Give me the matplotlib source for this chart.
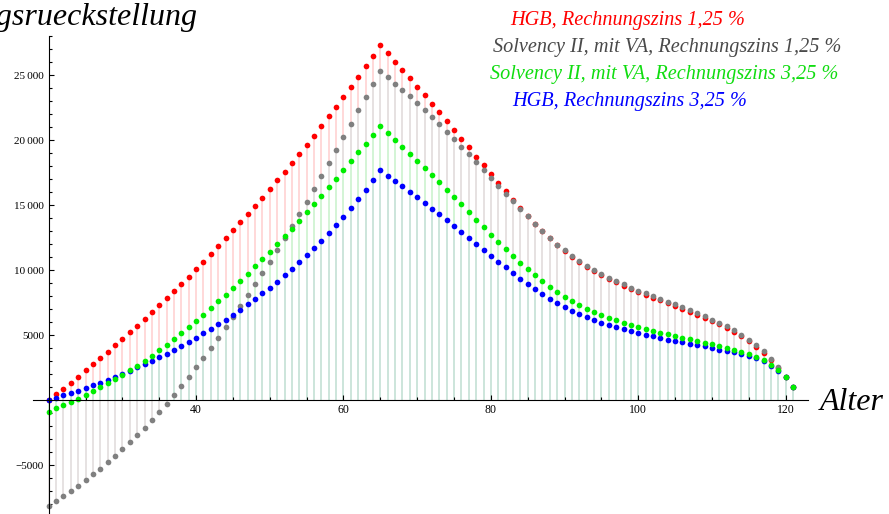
import matplotlib
matplotlib.use('Agg')
import matplotlib.pyplot as plt
from matplotlib.ticker import FixedLocator, FuncFormatter

# Alter 20 bis 121
alter = list(range(20, 122))

# HGB, Rechnungszins 1,25 %
hgb_125 = [0, 436, 872, 1333, 1795, 2282, 2743, 3231, 3718, 4205,
           4692, 5205, 5718, 6256, 6769, 7307, 7846, 8384, 8923, 9487,
           10077, 10641, 11230, 11846, 12436, 13051, 13667, 14282, 14923, 15564,
           16230, 16897, 17564, 18230, 18923, 19615, 20333, 21077, 21820, 22564,
           23308, 24077, 24872, 25666, 26461, 27282, 26666, 26025, 25384, 24743,
           24102, 23461, 22794, 22128, 21461, 20794, 20102, 19435, 18718, 18077,
           17384, 16717, 16076, 15410, 14794, 14179, 13564, 13000, 12461, 11948,
           11461, 11000, 10589, 10230, 9897, 9615, 9333, 9051, 8800, 8540,
           8310, 8100, 7870, 7670, 7460, 7260, 7030, 6800, 6570, 6340,
           6090, 5840, 5570, 5260, 4930, 4550, 4110, 3650, 3090, 2440,
           1760, 970]

# Solvency II, mit VA, Rechnungszins 1,25 %
solv_125 = [-8128, -7743, -7384, -7000, -6589, -6154, -5718, -5282, -4795, -4282,
            -3769, -3256, -2692, -2128, -1538, -897, -282, 385, 1077, 1795,
            2513, 3256, 4000, 4795, 5590, 6384, 7231, 8051, 8897, 9769,
            10641, 11538, 12436, 13370, 14307, 15256, 16230, 17230, 18230, 19230,
            20230, 21256, 22282, 23282, 24282, 25282, 24820, 24333, 23846, 23359,
            22846, 22307, 21769, 21205, 20641, 20077, 19487, 18897, 18282, 17692,
            17077, 16460, 15871, 15282, 14718, 14128, 13538, 13000, 12461, 11948,
            11512, 11077, 10666, 10307, 10000, 9692, 9410, 9140, 8897, 8641,
            8410, 8205, 7974, 7769, 7564, 7359, 7128, 6897, 6666, 6436,
            6190, 5935, 5666, 5359, 5025, 4641, 4205, 3743, 3179, 2513,
            1769, 974]

# Solvency II, mit VA, Rechnungszins 3,25 %
solv_325 = [-897, -641, -385, -154, 103, 359, 667, 974, 1282, 1615,
            1949, 2308, 2641, 3026, 3410, 3846, 4256, 4692, 5154, 5590,
            6077, 6564, 7051, 7590, 8102, 8641, 9154, 9718, 10282, 10820,
            11410, 12000, 12590, 13190, 13795, 14436, 15077, 15718, 16384, 17025,
            17692, 18384, 19051, 19718, 20384, 21051, 20512, 20000, 19461, 18923,
            18384, 17846, 17282, 16743, 16179, 15615, 15051, 14461, 13871, 13307,
            12730, 12179, 11615, 11076, 10564, 10076, 9589, 9128, 8692, 8307,
            7923, 7589, 7282, 7000, 6743, 6512, 6307, 6128, 5948, 5769,
            5615, 5461, 5307, 5179, 5051, 4923, 4795, 4666, 4538, 4410,
            4307, 4170, 4000, 3846, 3718, 3564, 3307, 3051, 2692, 2282,
            1769, 974]

# HGB, Rechnungszins 3,25 %
hgb_325 = [0, 154, 359, 538, 718, 923, 1128, 1333, 1564, 1795,
           2000, 2256, 2513, 2769, 3026, 3282, 3564, 3872, 4179, 4487,
           4795, 5128, 5461, 5820, 6179, 6564, 6948, 7359, 7769, 8205,
           8641, 9102, 9590, 10077, 10590, 11128, 11666, 12256, 12846, 13461,
           14077, 14743, 15436, 16154, 16897, 17666, 17256, 16846, 16435, 16000,
           15589, 15153, 14717, 14307, 13871, 13410, 12948, 12487, 12025, 11564,
           11102, 10650, 10205, 9769, 9333, 8923, 8538, 8153, 7794, 7436,
           7128, 6846, 6589, 6359, 6128, 5923, 5743, 5590, 5436, 5282,
           5128, 5000, 4897, 4769, 4641, 4538, 4436, 4333, 4230, 4128,
           4010, 3880, 3795, 3666, 3538, 3384, 3205, 2974, 2615, 2230,
           1769, 974]

serif = ['Liberation Serif', 'DejaVu Serif']
plt.rcParams['font.family'] = serif

fig = plt.figure(figsize=(8.89, 5.14), dpi=100)
ax = fig.add_axes([33 / 889, 0, 775 / 889, 478 / 514])

# Reihen: Daten, Punktfarbe, Stielfarbe, Textfarbe, Beschriftung, Textposition (x-Pixel, Grundlinie)
reihen = [
    (hgb_125, '#ff0000', '#ffd8d8', '#ff0000', 'HGB, Rechnungszins 1,25 %', 510, 25),
    (solv_125, '#808080', '#e6e2e2', '#4a4a4a', 'Solvency II, mit VA, Rechnungszins 1,25 %', 493, 52),
    (solv_325, '#00ee00', '#d4f5d6', '#11dd11', 'Solvency II, mit VA, Rechnungszins 3,25 %', 490, 79),
    (hgb_325, '#0000ff', '#cde5dc', '#0000ff', 'HGB, Rechnungszins 3,25 %', 512, 106),
]

# Stiele zur Achse (Filling -> Axis)
for i, (werte, farbe, stiel, textfarbe, name, tx, ty) in enumerate(reihen):
    ax.vlines(alter, 0, werte, colors=stiel, linewidth=1.4, zorder=1 + 0.1 * i)

# Punkte: Reihenfolge so, dass Grau über Rot und Grün über Blau liegt
punkt_z = [3, 4, 6, 5]
for i, (werte, farbe, stiel, textfarbe, name, tx, ty) in enumerate(reihen):
    ax.plot(alter, werte, 'o', color=farbe, markersize=4.1, markeredgewidth=0,
            zorder=punkt_z[i])
    fig.text(tx / 889, 1 - ty / 514, name, color=textfarbe, fontsize=14.6,
             style='italic', ha='left', va='baseline')

# Achsen im Mathematica-Stil
ax.set_xlim(17.87, 123.03)
ax.set_ylim(-8769, 28000)
for s in ['top', 'right']:
    ax.spines[s].set_visible(False)
ax.spines['left'].set_position(('data', 20))
ax.spines['bottom'].set_position(('data', 0))
ax.spines['left'].set_zorder(8)
ax.spines['bottom'].set_zorder(8)
ax.patch.set_alpha(0)

ax.xaxis.set_major_locator(FixedLocator([40, 60, 80, 100, 120]))
ax.xaxis.set_minor_locator(FixedLocator([v for v in range(25, 123, 5) if v % 20 != 0]))
ax.yaxis.set_major_locator(FixedLocator([-5000, 5000, 10000, 15000, 20000, 25000]))
ax.yaxis.set_minor_locator(FixedLocator([v for v in range(-8000, 28001, 1000) if v % 5000 != 0]))


def fmt_y(v, pos):
    n = int(v)
    s = str(abs(n))
    if len(s) > 4:
        s = s[:-3] + '\u2009' + s[-3:]
    return ('\u2212' if n < 0 else '') + s


ax.yaxis.set_major_formatter(FuncFormatter(fmt_y))
ax.tick_params(which='both', direction='in', width=0.8, colors='black')
ax.tick_params(axis='y', which='major', length=3.5, pad=3.5, labelsize=8)
ax.tick_params(axis='y', which='minor', length=2)
ax.tick_params(axis='x', which='major', length=3.5, pad=3, labelsize=8.5)
ax.tick_params(axis='x', which='minor', length=2)

# Achsenbeschriftungen
fig.text(197 / 889, 1 - 25 / 514, 'Deckungsrueckstellung', fontsize=23,
         style='italic', ha='right', va='baseline')
fig.text(820 / 889, 1 - 410 / 514, 'Alter', fontsize=23, style='italic',
         ha='left', va='baseline')

plt.savefig('out.png', dpi=100)
